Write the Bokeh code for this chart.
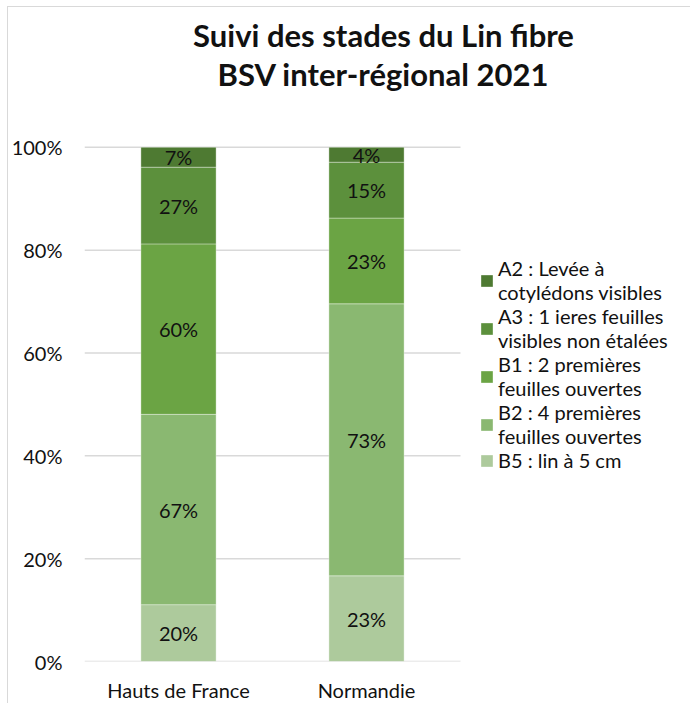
import numpy as np
from bokeh.plotting import figure
from bokeh.models import (Range1d, FixedTicker, ColumnDataSource, Legend,
                          LegendItem, Label)
from bokeh.core.properties import value
from bokeh.embed import file_html
from bokeh.resources import INLINE

# ---------------- data ----------------
regions = ["Hauts de France", "Normandie"]
stage_keys = ["B5", "B2", "B1", "A3", "A2"]          # bottom -> top
stage_labels = [
    "B5 : lin à 5 cm",
    "B2 : 4 premières\nfeuilles ouvertes",
    "B1 : 2 premières\nfeuilles ouvertes",
    "A3 : 1 ieres feuilles\nvisibles non étalées",
    "A2 : Levée à\ncotylédons visibles",
]
b5 = [20, 23]
b2 = [67, 73]
b1 = [60, 23]
a3 = [27, 15]
a2 = [7, 4]
colors = ["#ADCA9C", "#8AB871", "#6BA444", "#5C903C", "#4E7A32"]
y_ticks = [0, 0.2, 0.4, 0.6, 0.8, 1.0]
y_tick_labels = ["0%", "20%", "40%", "60%", "80%", "100%"]
title_lines = ["Suivi des stades du Lin fibre", "BSV inter-régional 2021"]

FONT = "Lato"
FS = "20px"

# ---------------- layout constants ----------------
W, H = 683, 697
LEFT, RIGHT, TOP, BOTTOM = 76, 9, 0, 42
frame_w = W - LEFT - RIGHT
frame_h = H - TOP - BOTTOM
px_per_cat = 188.0
px_per_unit_y = 515.0
X_END = frame_w / px_per_cat
Y_END = frame_h / px_per_unit_y

# ---------------- derived (100 % stacking) ----------------
series = [b5, b2, b1, a3, a2]
vals = np.array(series, dtype=float)
totals = vals.sum(axis=0)
fracs = vals / totals
xs = np.arange(len(regions)) + 0.5

data = {"x": xs}
for k, f in zip(stage_keys, fracs):
    data[k] = f
source = ColumnDataSource(data)

lab_x, lab_y, lab_t = [], [], []
cum = np.zeros(len(regions))
for raw, f in zip(series, fracs):
    for i in range(len(regions)):
        lab_x.append(xs[i])
        lab_y.append(cum[i] + f[i] / 2)
        lab_t.append(f"{raw[i]}%")
    cum = cum + f
lab_src = ColumnDataSource(dict(x=lab_x, y=lab_y, t=lab_t))

# ---------------- figure ----------------
p = figure(width=W, height=H, x_range=Range1d(0, X_END), y_range=Range1d(0, Y_END),
           output_backend="svg", toolbar_location=None,
           min_border_left=LEFT, min_border_right=RIGHT,
           min_border_top=TOP, min_border_bottom=BOTTOM)
p.outline_line_color = None
p.xgrid.visible = False
p.ygrid.visible = False
p.background_fill_color = "white"
p.border_fill_color = "white"
p.styles = {"margin-left": "7px", "margin-top": "6px",
            "border-left": "1px solid #d9d9d9", "border-top": "1px solid #d9d9d9"}

# gridlines (only across the category area)
p.segment(x0=0, x1=len(regions), y0=y_ticks, y1=y_ticks,
          line_color="#d9d9d9", line_width=1.5)

rends = p.vbar_stack(stage_keys, x="x", width=0.4, color=colors, source=source,
                     line_color="white", line_width=0.6, line_alpha=0.6)

p.text(x="x", y="y", text="t", source=lab_src, text_align="center",
       text_baseline="middle", text_font=value(FONT), text_font_size=FS,
       text_color="#111111")

# axes
yax = p.yaxis[0]
yax.ticker = FixedTicker(ticks=y_ticks)
yax.major_label_overrides = {t: l for t, l in zip(y_ticks, y_tick_labels)}
yax.axis_line_color = None
yax.major_tick_line_color = None
yax.minor_tick_line_color = None
yax.major_tick_out = 0
yax.major_tick_in = 0
yax.minor_tick_out = 0
yax.major_label_text_font = FONT
yax.major_label_text_font_size = FS
yax.major_label_text_color = "#111111"
yax.major_label_standoff = 22

xax = p.xaxis[0]
xax.ticker = FixedTicker(ticks=list(xs))
xax.major_label_overrides = {float(x): r for x, r in zip(xs, regions)}
xax.axis_line_color = None
xax.major_tick_line_color = None
xax.minor_tick_line_color = None
xax.major_tick_out = 0
xax.major_tick_in = 0
xax.minor_tick_out = 0
xax.major_label_text_font = FONT
xax.major_label_text_font_size = FS
xax.major_label_text_color = "#111111"
xax.major_label_standoff = 16

# title
for i, line in enumerate(title_lines):
    p.add_layout(Label(x=X_END / 2, y=frame_h - 28 - 39 * i, x_units="data",
                       y_units="screen", text=line, text_align="center",
                       text_baseline="middle", text_font=FONT,
                       text_font_style="bold", text_font_size="31px",
                       text_color="#111111"))

# legend
items = [LegendItem(label=stage_labels[i], renderers=[rends[i]])
         for i in reversed(range(len(stage_keys)))]
legend = Legend(items=items, location=(395, 189))
legend.border_line_color = None
legend.background_fill_alpha = 0
legend.padding = 0
legend.margin = 0
legend.spacing = 0
legend.glyph_width = 15
legend.glyph_height = 15
legend.label_standoff = 4
legend.label_text_font = FONT
legend.label_text_font_size = FS
legend.label_text_color = "#111111"
legend.label_text_line_height = 1.4
p.add_layout(legend)

open("out.html", "w").write(file_html(p, INLINE))
